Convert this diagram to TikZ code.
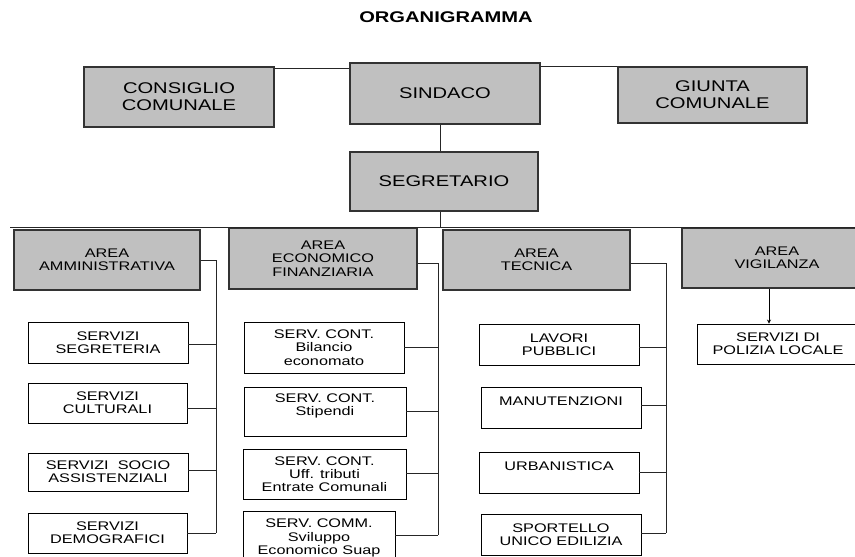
\documentclass[tikz,border=0pt]{standalone}
\usepackage{fontspec}
\setmainfont{Liberation Sans}[FakeStretch=1.3]
\usetikzlibrary{arrows.meta}
\definecolor{boxgray}{RGB}{192,192,192}
\tikzset{
    topbox/.style = {rectangle, draw=black!80, line width=1.2pt, fill=boxgray, align=center, inner sep=0pt, font=\fontsize{15.5}{16.8}\selectfont},
    areabox/.style = {rectangle, draw=black!80, line width=1.2pt, fill=boxgray, align=center, inner sep=0pt, font=\fontsize{12.5}{13.4}\selectfont},
    servbox/.style = {rectangle, draw=black, line width=0.9pt, fill=white, align=center, inner sep=0pt, minimum width=160pt, minimum height=41pt, font=\fontsize{12.5}{13.3}\selectfont},
    titlefont/.style = {font=\fontsize{15.5}{17}\selectfont\bfseries},
    link/.style = {draw=black!85, line width=0.9pt},
    linkarrow/.style = {-{Stealth[length=4pt,width=4pt]}, draw=black, line width=0.9pt}
}
\begin{document}
\begin{tikzpicture}[x=1pt,y=-1pt]
\useasboundingbox (0,0) rectangle (855,557);
\fill[white] (0,0) rectangle (855,557);
\clip (0,0) rectangle (855,557);
%
\node[titlefont] at (446,17) (title) {ORGANIGRAMMA};
\node[topbox, minimum width=190pt, minimum height=60pt] at (179,97) (cons) {CONSIGLIO\\COMUNALE};
\node[topbox, minimum width=190pt, minimum height=61pt] at (445,93.5) (sind) {SINDACO};
\node[topbox, minimum width=189pt, minimum height=56pt] at (712.5,95) (giun) {GIUNTA\\COMUNALE};
\node[topbox, minimum width=188pt, minimum height=59pt] at (444,181.5) (segr) {SEGRETARIO};
%
\node[areabox, minimum width=186pt, minimum height=60pt] at (107,260) (amm) {AREA\\AMMINISTRATIVA};
\node[areabox, minimum width=188pt, minimum height=61pt] at (323,258.5) (eco) {AREA\\ECONOMICO\\FINANZIARIA};
\node[areabox, minimum width=187pt, minimum height=60pt] at (536.5,260) (tec) {AREA\\TECNICA};
\node[areabox, minimum width=190pt, minimum height=60pt] at (777,258) (vig) {AREA\\VIGILANZA};
%
\node[servbox] at (108,342.5) (sseg) {SERVIZI\\SEGRETERIA};
\node[servbox, minimum width=159pt, minimum height=40pt] at (107.5,403) (scul) {SERVIZI\\CULTURALI};
\node[servbox, minimum height=38pt] at (108,472) (ssoc) {SERVIZI\ \ SOCIO\\ASSISTENZIALI};
\node[servbox, minimum width=159pt, minimum height=40pt] at (107.5,533) (sdem) {SERVIZI\\DEMOGRAFICI};
%
\node[servbox, minimum height=51pt] at (324,347.5) (sbil) {SERV. CONT.\\Bilancio\\economato};
\node[servbox, minimum width=162pt, minimum height=49pt] at (325,411.5) (ssti) {SERV. CONT.\\Stipendi\\ \mbox{}};
\node[servbox, minimum width=163pt, minimum height=50pt] at (324.5,474) (strb) {SERV. CONT.\\Uff. tributi\\Entrate Comunali};
\node[servbox, minimum width=152pt, minimum height=54pt] at (319,538) (ssvi) {SERV. COMM.\\Sviluppo\\Economico Suap};
%
\node[servbox] at (559,344.5) (slav) {LAVORI\\PUBBLICI};
\node[servbox] at (561,407.5) (sman) {MANUTENZIONI\\ \mbox{}};
\node[servbox] at (559,472.5) (surb) {URBANISTICA\\ \mbox{}};
\node[servbox] at (561,534.5) (sspo) {SPORTELLO\\UNICO EDILIZIA};
%
\node[servbox, minimum width=162pt, minimum height=40pt] at (778,344) (spol) {SERVIZI DI\\POLIZIA LOCALE};
%
\coordinate (busL) at (10,227);
\coordinate (busR) at (855,227);
\coordinate (ammtop) at (216,260);
\coordinate (ammbot) at (216,533);
\coordinate (ecotop) at (438,263);
\coordinate (ecobot) at (438,535);
\coordinate (tectop) at (666,263);
\coordinate (tecbot) at (666,533);
%
\draw[link] ([yshift=-2pt]cons.north east) -- ([yshift=-2pt]cons.north east -| sind.west);
\draw[link] (giun.north west -| sind.east) -- (giun.north west);
\draw[link] ([xshift=-5pt]sind.south) -- ([xshift=-4pt]segr.north);
\draw[link] ([xshift=-4pt]segr.south) -- ([xshift=-4pt]segr.south |- busL);
\draw[link] (busL) -- (busR);
%
\draw[link] (amm.east) -- (ammtop) -- (ammbot);
\draw[link] ([yshift=-1.5pt]sseg.east) -- ([yshift=-1.5pt]sseg.east -| ammtop);
\draw[link] ([yshift=-5pt]scul.east) -- ([yshift=-5pt]scul.east -| ammtop);
\draw[link] ([yshift=2pt]ssoc.east) -- ([yshift=2pt]ssoc.east -| ammtop);
\draw[link] (sdem.east) -- (sdem.east -| ammtop);
%
\draw[link] (eco.east |- ecotop) -- (ecotop) -- (ecobot);
\draw[link] (sbil.east) -- (sbil.east -| ecotop);
\draw[link] (ssti.east) -- (ssti.east -| ecotop);
\draw[link] ([yshift=1pt]strb.east) -- ([yshift=1pt]strb.east -| ecotop);
\draw[link] ([yshift=3pt]ssvi.east) -- ([yshift=3pt]ssvi.east -| ecotop);
%
\draw[link] (tec.east |- tectop) -- (tectop) -- (tecbot);
\draw[link] ([yshift=-2.5pt]slav.east) -- ([yshift=-2.5pt]slav.east -| tectop);
\draw[link] ([yshift=2.5pt]sman.east) -- ([yshift=2.5pt]sman.east -| tectop);
\draw[link] (surb.east) -- (surb.east -| tectop);
\draw[link] ([yshift=1.5pt]sspo.east) -- ([yshift=1.5pt]sspo.east -| tectop);
%
\draw[linkarrow] ([xshift=-8pt]vig.south) -- ([xshift=-9pt]spol.north);
\end{tikzpicture}
\end{document}
